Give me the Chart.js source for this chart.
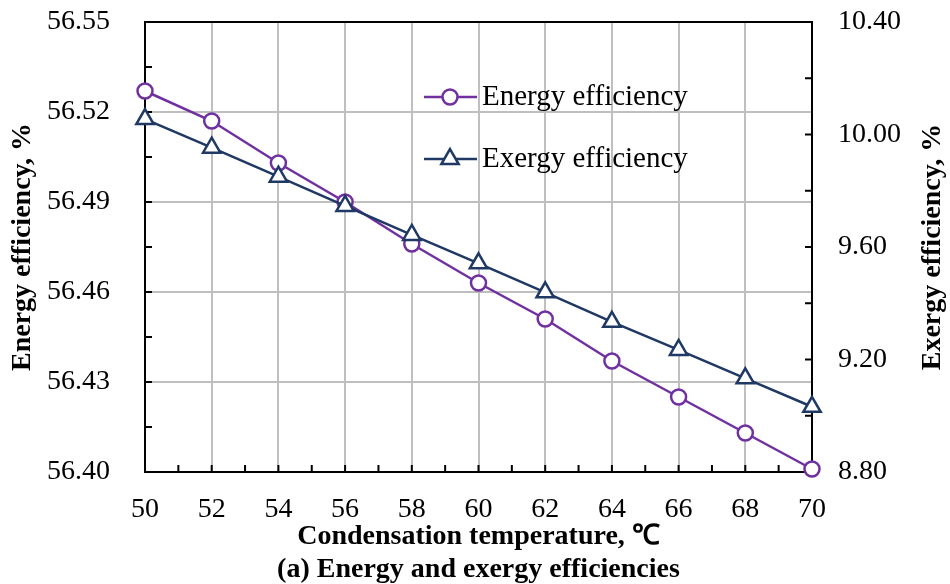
<!DOCTYPE html>
<html>
<head>
<meta charset="utf-8">
<script src="https://cdn.jsdelivr.net/npm/chart.js@4.4.0/dist/chart.umd.min.js"></script>
<style>
  html, body { margin: 0; padding: 0; background: #fff; }
  canvas { display: block; }
</style>
</head>
<body>
<canvas id="effChart" width="950" height="584"></canvas>
<script>
// condensation temperature, deg C
const temps = [50, 52, 54, 56, 58, 60, 62, 64, 66, 68, 70];
// efficiencies, %
const energyEff = [56.527, 56.517, 56.503, 56.490, 56.476, 56.463, 56.451, 56.437, 56.425, 56.413, 56.401];
const exergyEff = [10.055, 9.953, 9.850, 9.746, 9.643, 9.542, 9.439, 9.334, 9.234, 9.133, 9.032];

const tempTicks = [50, 52, 54, 56, 58, 60, 62, 64, 66, 68, 70];
const energyTicks = [56.40, 56.43, 56.46, 56.49, 56.52, 56.55];
const exergyTicks = [8.80, 9.20, 9.60, 10.00, 10.40];

const SERIF = '"Liberation Serif", "Times New Roman", serif';
const PURPLE = '#7030A0';
const NAVY = '#1F3864';
const GRID = '#BFBFBF';

const tickFont = { family: SERIF, size: 28 };
const titleFont = { family: SERIF, size: 28, weight: 'bold', lineHeight: 1.2 };

function fixedTicks(list) {
  return scale => { scale.ticks = list.map(v => ({ value: v })); };
}

// fixed box sizes so the plot area lands where it should
function fitVertical(width) {
  return s => { s.width = width; s.paddingTop = 0; s.paddingBottom = 0; };
}

// black box round the plot plus short inward tick marks
const frameTicks = {
  id: 'frameTicks',
  beforeDatasetsDraw(chart) {
    const { ctx, chartArea: a, scales } = chart;
    ctx.save();
    ctx.strokeStyle = '#000';
    ctx.lineWidth = 2;
    ctx.beginPath();
    for (let v = 50; v <= 70; v++) {
      const px = scales.x.getPixelForValue(v);
      ctx.moveTo(px, a.bottom);
      ctx.lineTo(px, a.bottom - 7);
    }
    for (let i = 0; i <= 10; i++) {
      const py = scales.y.getPixelForValue(56.40 + i * 0.015);
      ctx.moveTo(a.left, py);
      ctx.lineTo(a.left + 7, py);
    }
    for (let i = 0; i <= 8; i++) {
      const py = scales.y1.getPixelForValue(8.80 + i * 0.2);
      ctx.moveTo(a.right, py);
      ctx.lineTo(a.right - 7, py);
    }
    ctx.stroke();
    ctx.strokeRect(a.left, a.top, a.right - a.left, a.bottom - a.top);
    ctx.restore();
  }
};

// legend inside the plot and the right-hand axis title (reads bottom to top)
const extras = {
  id: 'extras',
  afterDraw(chart) {
    const { ctx, scales } = chart;
    ctx.save();

    const rows = [
      { label: 'Energy efficiency', color: PURPLE, shape: 'circle', y: 97 },
      { label: 'Exergy efficiency', color: NAVY, shape: 'triangle', y: 159 }
    ];
    rows.forEach(r => {
      ctx.strokeStyle = r.color;
      ctx.lineWidth = 2.5;
      ctx.beginPath();
      ctx.moveTo(424, r.y);
      ctx.lineTo(477, r.y);
      ctx.stroke();
      ctx.fillStyle = '#fff';
      ctx.beginPath();
      if (r.shape === 'circle') {
        ctx.arc(450, r.y, 7.5, 0, Math.PI * 2);
      } else {
        const rad = 10;
        for (let k = 0; k < 3; k++) {
          const ang = k * 2 * Math.PI / 3;
          const px = 450 + Math.sin(ang) * rad;
          const py = r.y - Math.cos(ang) * rad;
          if (k === 0) ctx.moveTo(px, py); else ctx.lineTo(px, py);
        }
        ctx.closePath();
      }
      ctx.fill();
      ctx.stroke();
      ctx.fillStyle = '#000';
      ctx.font = '29px ' + SERIF;
      ctx.textAlign = 'left';
      ctx.textBaseline = 'middle';
      ctx.fillText(r.label, 482, r.y);
    });

    const ry = scales.y1;
    ctx.translate(ry.right - 17, (ry.top + ry.bottom) / 2);
    ctx.rotate(-Math.PI / 2);
    ctx.font = 'bold 28px ' + SERIF;
    ctx.textAlign = 'center';
    ctx.textBaseline = 'middle';
    ctx.fillStyle = '#000';
    ctx.fillText('Exergy efficiency, %', 0, 0);
    ctx.restore();
  }
};

new Chart(document.getElementById('effChart').getContext('2d'), {
  type: 'line',
  data: {
    datasets: [
      {
        label: 'Energy efficiency',
        data: temps.map((t, i) => ({ x: t, y: energyEff[i] })),
        yAxisID: 'y',
        order: 2,
        borderColor: PURPLE,
        borderWidth: 2.5,
        pointStyle: 'circle',
        pointRadius: 7.5,
        pointBorderWidth: 2.5,
        pointBackgroundColor: '#fff',
        pointBorderColor: PURPLE,
        tension: 0,
        clip: false
      },
      {
        label: 'Exergy efficiency',
        data: temps.map((t, i) => ({ x: t, y: exergyEff[i] })),
        yAxisID: 'y1',
        order: 1,
        borderColor: NAVY,
        borderWidth: 2.5,
        pointStyle: 'triangle',
        pointRadius: 10,
        pointBorderWidth: 2.5,
        pointBackgroundColor: '#fff',
        pointBorderColor: NAVY,
        tension: 0,
        clip: false
      }
    ]
  },
  options: {
    responsive: false,
    animation: false,
    layout: { padding: { top: 22, left: 0, right: 0, bottom: 0 } },
    plugins: { legend: { display: false }, tooltip: { enabled: false } },
    scales: {
      x: {
        type: 'linear',
        min: 50,
        max: 70,
        afterBuildTicks: fixedTicks(tempTicks),
        afterFit: s => { s.height = 112; s.paddingLeft = 0; s.paddingRight = 0; },
        border: { display: false },
        grid: { color: GRID, lineWidth: 2, drawTicks: false },
        ticks: { color: '#000', font: tickFont, padding: 21, maxRotation: 0, autoSkip: false },
        title: {
          display: true,
          text: ['Condensation temperature, \u2103', '(a) Energy and exergy efficiencies'],
          color: '#000',
          font: titleFont,
          padding: { top: 0, bottom: -3 }
        }
      },
      y: {
        position: 'left',
        min: 56.40,
        max: 56.55,
        afterBuildTicks: fixedTicks(energyTicks),
        afterFit: fitVertical(145),
        border: { display: false },
        grid: { color: GRID, lineWidth: 2, drawTicks: false },
        ticks: { color: '#000', font: tickFont, padding: 35, callback: v => v.toFixed(2) },
        title: {
          display: true,
          text: 'Energy efficiency, %',
          color: '#000',
          font: titleFont,
          padding: { top: 6, bottom: 0 }
        }
      },
      y1: {
        position: 'right',
        min: 8.80,
        max: 10.40,
        afterBuildTicks: fixedTicks(exergyTicks),
        afterFit: fitVertical(138),
        border: { display: false },
        grid: { drawOnChartArea: false, drawTicks: false },
        ticks: { color: '#000', font: tickFont, padding: 26, callback: v => v.toFixed(2) }
      }
    }
  },
  plugins: [frameTicks, extras]
});
</script>
</body>
</html>
